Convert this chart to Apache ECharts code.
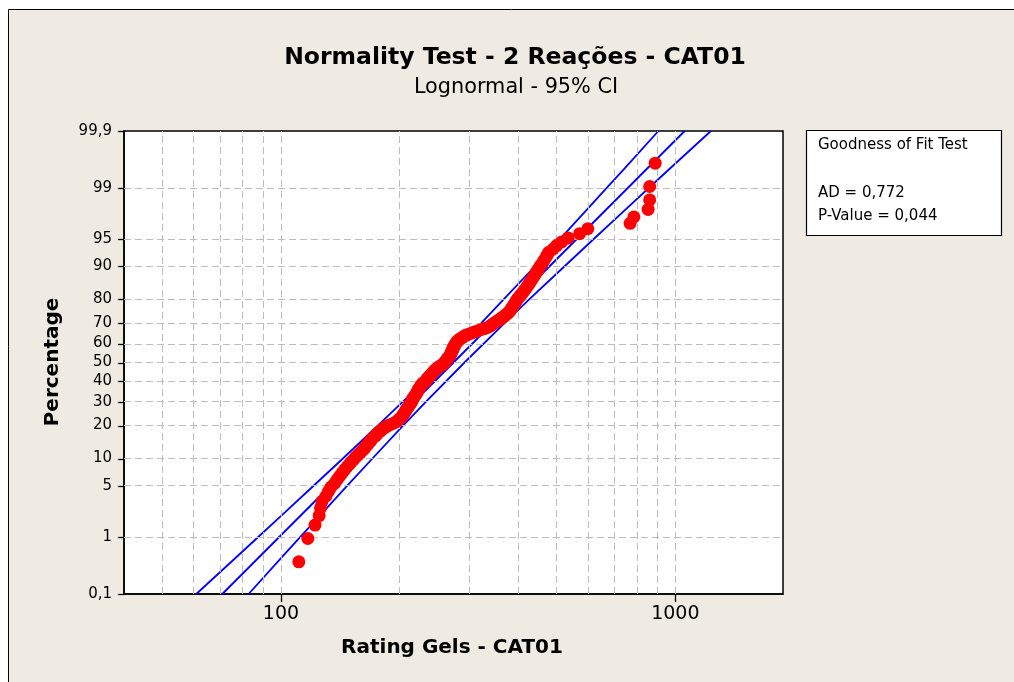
<!DOCTYPE html>
<html><head><meta charset="utf-8">
<script src="https://cdn.jsdelivr.net/npm/echarts@6/dist/echarts.min.js"></script>
<style>html,body{margin:0;padding:0;background:#fff}#chart{width:1014px;height:682px}</style>
</head><body><div id="chart"></div>
<script>
// ---- texts ----
const chartTitle = 'Normality Test - 2 Reações - CAT01';
const chartSubtitle = 'Lognormal - 95% CI';
const xAxisName = 'Rating Gels - CAT01';
const yAxisName = 'Percentage';
const statsLines = ['Goodness of Fit Test', 'AD = 0,772', 'P-Value = 0,044'];

// ---- axes ----
const yTickPercent = [0.1, 1, 5, 10, 20, 30, 40, 50, 60, 70, 80, 90, 95, 99, 99.9];
const yTickLabels = ['0,1', '1', '5', '10', '20', '30', '40', '50', '60', '70', '80', '90', '95', '99', '99,9'];
const yGridPercent = [1, 5, 10, 20, 30, 40, 50, 60, 70, 80, 90, 95, 99];
const xTickValues = [100, 1000];
const xTickLabels = ['100', '1000'];
const xGridValues = [50, 60, 70, 80, 90, 100, 200, 300, 400, 500, 600, 700, 800, 900, 1000];
const xRange = [40, 1875];

// ---- data points (sorted values and their plotted percentages) ----
const gelValues = [
  111,117,122,125,126,127,130,132,134,137,
  139,141,143,145,147,149,151,153,155,157,
  159,161,163,164,166,167,169,170,172,174,
  175,177,179,181,183,186,189,193,196,198,
  200,202,203,204,205,206,207,208,209,210,
  211,212,213,214,215,215,216,217,218,219,
  220,221,222,222,223,224,225,226,227,228,
  229,232,233,234,235,236,238,239,240,242,
  243,244,246,247,249,251,253,256,258,259,
  261,262,263,264,266,267,268,269,270,270,
  271,272,273,273,274,275,276,277,278,279,
  281,283,285,288,291,294,299,304,309,315,
  321,328,334,339,342,345,348,352,356,360,
  363,367,370,374,377,380,382,384,386,388,
  390,392,394,396,398,401,404,407,410,413,
  416,419,422,425,428,431,434,437,441,444,
  448,451,455,460,464,469,473,478,490,500,
  515,535,572,600,768,785,853,861,861,889
];
const gelPercent = [
  0.39,0.94,1.50,2.05,2.61,3.16,3.71,4.27,4.82,5.38,
  5.93,6.49,7.04,7.59,8.15,8.70,9.26,9.81,10.37,10.92,
  11.47,12.03,12.58,13.14,13.69,14.25,14.80,15.35,15.91,16.46,
  17.02,17.57,18.13,18.68,19.24,19.79,20.34,20.90,21.45,22.01,
  22.56,23.12,23.67,24.22,24.78,25.33,25.89,26.44,27.00,27.55,
  28.10,28.66,29.21,29.77,30.32,30.88,31.43,31.98,32.54,33.09,
  33.65,34.20,34.76,35.31,35.86,36.42,36.97,37.53,38.08,38.64,
  39.19,39.75,40.30,40.85,41.41,41.96,42.52,43.07,43.63,44.18,
  44.73,45.29,45.84,46.40,46.95,47.51,48.06,48.61,49.17,49.72,
  50.28,50.83,51.39,51.94,52.49,53.05,53.60,54.16,54.71,55.27,
  55.82,56.37,56.93,57.48,58.04,58.59,59.15,59.70,60.26,60.81,
  61.36,61.92,62.47,63.03,63.58,64.14,64.69,65.24,65.80,66.35,
  66.91,67.46,68.02,68.57,69.12,69.68,70.23,70.79,71.34,71.90,
  72.45,73.00,73.56,74.11,74.67,75.22,75.78,76.33,76.89,77.44,
  77.99,78.55,79.10,79.66,80.21,80.77,81.32,81.87,82.43,82.98,
  83.54,84.09,84.65,85.20,85.75,86.31,86.86,87.42,87.97,88.53,
  89.08,89.63,90.19,90.74,91.30,91.85,92.41,92.96,93.51,94.07,
  94.62,95.18,95.73,96.29,96.84,97.40,97.95,98.50,99.06,99.61
];

// ---- fitted line and 95% confidence band ----
const fitPercent = [0.1, 99.9];
const fitValues = [71, 1056];
const ciPercent = [0.1, 0.5, 1, 2, 5, 10, 20, 30, 50, 70, 80, 90, 95, 98, 99, 99.5, 99.9];
const ciLowerValues = [61.0, 77.9, 87.7, 99.8, 121, 143.6, 176, 203.5, 257, 322, 367, 440, 509, 600, 669, 739, 906];
const ciUpperValues = [82.8, 101.5, 112, 125, 147.3, 170.6, 204, 233, 292, 369, 426, 523, 620, 752, 855, 963, 1231];

// normal probability scale (inverse standard normal CDF)
function probit(p) {
  const a = [-3.969683028665376e+01, 2.209460984245205e+02, -2.759285104469687e+02, 1.383577518672690e+02, -3.066479806614716e+01, 2.506628277459239e+00];
  const b = [-5.447609879822406e+01, 1.615858368580409e+02, -1.556989798598866e+02, 6.680131188771972e+01, -1.328068155288572e+01];
  const c = [-7.784894002430293e-03, -3.223964580411365e-01, -2.400758277161838e+00, -2.549671348283169e+00, 4.374664141464968e+00, 2.938163982698783e+00];
  const d = [7.784695709041462e-03, 3.224671290700398e-01, 2.445134137142996e+00, 3.754408661907416e+00];
  const pl = 0.02425, ph = 1 - pl;
  let q, r;
  if (p < pl) {
    q = Math.sqrt(-2 * Math.log(p));
    return (((((c[0]*q+c[1])*q+c[2])*q+c[3])*q+c[4])*q+c[5]) / ((((d[0]*q+d[1])*q+d[2])*q+d[3])*q+1);
  }
  if (p <= ph) {
    q = p - 0.5; r = q * q;
    return (((((a[0]*r+a[1])*r+a[2])*r+a[3])*r+a[4])*r+a[5])*q / (((((b[0]*r+b[1])*r+b[2])*r+b[3])*r+b[4])*r+1);
  }
  q = Math.sqrt(-2 * Math.log(1 - p));
  return -(((((c[0]*q+c[1])*q+c[2])*q+c[3])*q+c[4])*q+c[5]) / ((((d[0]*q+d[1])*q+d[2])*q+d[3])*q+1);
}
const P = pct => probit(pct / 100);

const yTickZ = yTickPercent.map(P);
const FONT = 'DejaVu Sans';
const BG = '#EFEBE2';
const GRID_COLOR = '#BDBDBD';

const pointsData = gelValues.map((v, i) => [v, P(gelPercent[i])]);
const fitData = fitValues.map((v, i) => [v, P(fitPercent[i])]);
const lowerData = ciLowerValues.map((v, i) => [v, P(ciPercent[i])]);
const upperData = ciUpperValues.map((v, i) => [v, P(ciPercent[i])]);

const gridLineStyle = { color: GRID_COLOR, width: 1, type: [7, 4] };
const blueLine = { color: '#0000FF', width: 1.8 };
const axisLineStyle = { color: '#000', width: 1.5 };

const baseGraphics = [
  { type: 'rect', z: -10, silent: true, shape: { x: 8.5, y: 9.5, width: 1100, height: 800 }, style: { fill: BG, stroke: '#000', lineWidth: 1 } },
  { type: 'text', z: 10, x: 515, y: 58, style: { text: chartTitle, font: 'bold 23.5px "DejaVu Sans"', fill: '#000', align: 'center', verticalAlign: 'middle' } },
  { type: 'text', z: 10, x: 516, y: 88, style: { text: chartSubtitle, font: '20.8px "DejaVu Sans"', fill: '#000', align: 'center', verticalAlign: 'middle' } },
  { type: 'text', z: 10, x: 452, y: 648, style: { text: xAxisName, font: 'bold 20px "DejaVu Sans"', fill: '#000', align: 'center', verticalAlign: 'middle' } },
  { type: 'text', z: 10, x: 53, y: 362, rotation: Math.PI / 2, style: { text: yAxisName, font: 'bold 20px "DejaVu Sans"', fill: '#000', align: 'center', verticalAlign: 'middle' } },
  { type: 'rect', z: 10, shape: { x: 806.5, y: 130.5, width: 195, height: 105 }, style: { fill: '#fff', stroke: '#000', lineWidth: 1.2 } },
  { type: 'text', z: 11, x: 818, y: 145, style: { text: statsLines[0], font: '15px "DejaVu Sans"', fill: '#000', align: 'left', verticalAlign: 'middle' } },
  { type: 'text', z: 11, x: 818, y: 193, style: { text: statsLines[1], font: '15px "DejaVu Sans"', fill: '#000', align: 'left', verticalAlign: 'middle' } },
  { type: 'text', z: 11, x: 818, y: 216, style: { text: statsLines[2], font: '15px "DejaVu Sans"', fill: '#000', align: 'left', verticalAlign: 'middle' } }
];

const chart = echarts.init(document.getElementById('chart'), null, { renderer: 'canvas' });
chart.setOption({
  animation: false,
  backgroundColor: '#ffffff',
  textStyle: { fontFamily: FONT },
  grid: { left: 124, right: 231, top: 131, bottom: 88, show: true, backgroundColor: '#ffffff', borderColor: '#000000', borderWidth: 1.5 },
  xAxis: {
    type: 'log', logBase: 10, min: xRange[0], max: xRange[1], position: 'bottom',
    axisLine: { show: true, onZero: false, lineStyle: axisLineStyle },
    splitLine: { show: false },
    minorTick: { show: false },
    axisTick: { show: false },
    axisLabel: {
      customValues: xTickValues, margin: 11, color: '#000', fontSize: 19, fontFamily: FONT,
      formatter: v => { const i = xTickValues.findIndex(t => Math.abs(t - v) / t < 1e-6); return i >= 0 ? xTickLabels[i] : ''; }
    }
  },
  yAxis: {
    type: 'value', min: P(0.1), max: P(99.9), position: 'left',
    axisLine: { show: true, onZero: false, lineStyle: axisLineStyle },
    splitLine: { show: false },
    axisTick: { show: false },
    axisLabel: {
      customValues: yTickZ, margin: 12, color: '#000', fontSize: 15, fontFamily: FONT,
      formatter: v => { const i = yTickZ.findIndex(t => Math.abs(t - v) < 1e-6); return i >= 0 ? yTickLabels[i] : ''; }
    }
  },
  series: [
    {
      name: 'grid', type: 'line', data: [], z: 1, silent: true,
      markLine: {
        silent: true, symbol: 'none', animation: false,
        label: { show: false }, emphasis: { disabled: true },
        lineStyle: gridLineStyle,
        data: xGridValues.map(v => ({ xAxis: v })).concat(yGridPercent.map(p => ({ yAxis: P(p) })))
      }
    },
    { name: 'CI lower', type: 'line', data: lowerData, showSymbol: false, symbol: 'none', z: 3, lineStyle: blueLine },
    { name: 'Fit', type: 'line', data: fitData, showSymbol: false, symbol: 'none', z: 3, lineStyle: blueLine },
    { name: 'CI upper', type: 'line', data: upperData, showSymbol: false, symbol: 'none', z: 3, lineStyle: blueLine },
    { name: 'Rating Gels - CAT01', type: 'scatter', data: pointsData, symbol: 'circle', symbolSize: 13, z: 5, itemStyle: { color: '#FF0000', opacity: 1 } }
  ],
  graphic: baseGraphics
});

// tick marks, placed through the chart's own axis mapping
const tickGraphics = [];
yTickZ.forEach(z => {
  const pt = chart.convertToPixel({ gridIndex: 0 }, [xRange[0], z]);
  tickGraphics.push({ type: 'line', z: 12, silent: true, shape: { x1: pt[0] - 6, y1: Math.round(pt[1]) + 0.5, x2: pt[0], y2: Math.round(pt[1]) + 0.5 }, style: { stroke: '#000', lineWidth: 1.3 } });
});
xTickValues.forEach(v => {
  const pt = chart.convertToPixel({ gridIndex: 0 }, [v, P(0.1)]);
  tickGraphics.push({ type: 'line', z: 12, silent: true, shape: { x1: Math.round(pt[0]) + 0.5, y1: pt[1], x2: Math.round(pt[0]) + 0.5, y2: pt[1] + 8 }, style: { stroke: '#000', lineWidth: 1.3 } });
});
chart.setOption({ graphic: baseGraphics.concat(tickGraphics) });
</script>
</body></html>
